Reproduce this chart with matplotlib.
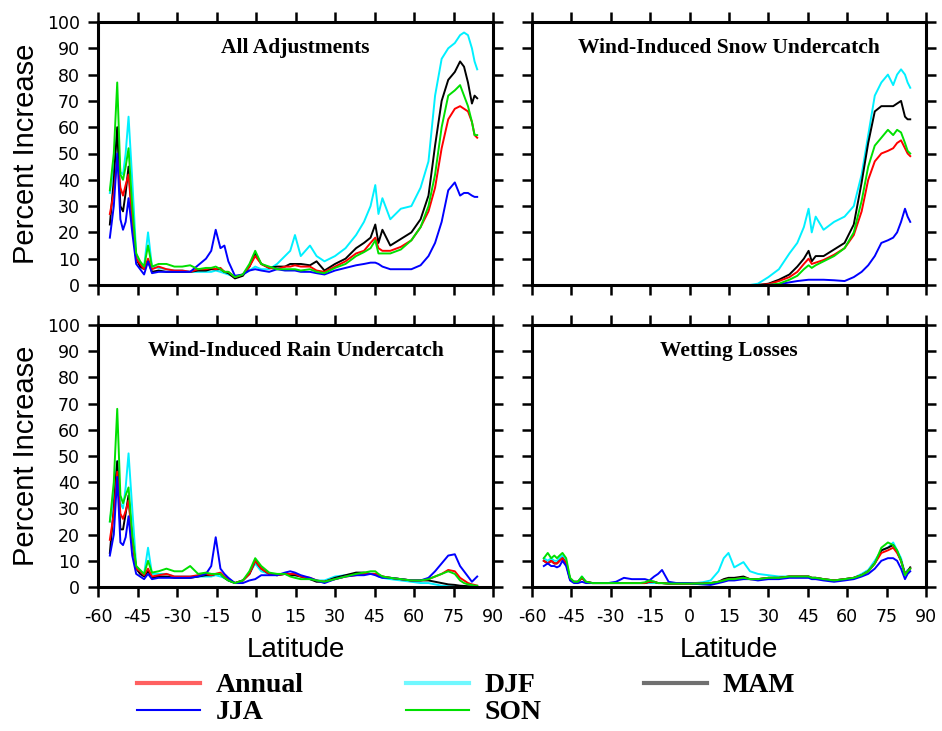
import numpy as np
import matplotlib
matplotlib.use('Agg')
import matplotlib.pyplot as plt
from matplotlib.lines import Line2D

plt.rcParams['axes.unicode_minus'] = False

# latitude of each sample (degrees)
lat = [-55.5, -54, -52.7, -51.5, -50.5, -49.5, -48.4, -47, -45.5, -44,
       -42.5, -41, -39.5, -37, -34, -31, -28, -25, -22, -19,
       -17, -15.3, -13.5, -12, -10.5, -8, -5, -2.5, -0.3, 2,
       5, 8, 11, 13, 14.8, 17, 20.5, 23, 26, 30,
       34, 38, 41, 43.5, 45.3, 46.5, 48, 51, 55, 59,
       62.5, 65.5, 68, 70.5, 73, 75.5, 77.5, 79, 80.5, 82, 83, 84]

# ---- All Adjustments
all_annual = [27, 35, 48, 37, 34, 38, 42, 25, 10, 8,
              6, 10, 6, 7, 6, 5.5, 5.5, 5, 6, 6,
              6.5, 6, 6.5, 5, 5, 3, 4, 7, 11, 8,
              6.5, 6, 7, 7, 7.5, 7, 7, 5.5, 5, 7,
              9, 12, 13, 16, 18, 14, 13, 13, 14.5, 17,
              22, 28, 37, 52, 63, 67, 68, 67, 66, 62, 57, 56]
all_djf = [35, 45, 58, 43, 42, 50, 64, 40, 12, 8,
           7, 20, 7, 6.5, 6, 5.5, 5.5, 5, 5, 5,
           5, 5.5, 5, 4.5, 4, 3, 4, 5.5, 7, 6,
           6, 8, 11, 13, 19, 11, 15, 11, 9, 11,
           14, 19, 24, 30, 38, 27, 33, 25, 29, 30,
           37, 47, 72, 86, 90, 92, 95, 96, 95, 90, 85, 82]
all_mam = [23, 40, 60, 30, 28, 35, 45, 25, 10, 7,
           6, 9, 5, 5.5, 5, 5, 5, 5, 5.5, 5.5,
           6, 6, 6, 5, 4.5, 2.5, 3.5, 7, 12, 8,
           6.5, 7, 7, 8, 8, 8, 7.5, 9, 5.5, 8,
           10, 14, 16, 18, 23, 16, 21, 15, 17.5, 20,
           25, 34, 53, 70, 78, 81, 85, 83, 77, 69, 72, 71]
all_jja = [18, 30, 50, 25, 21, 24, 33, 20, 8, 6,
           4, 9, 4.5, 5, 5, 5, 5, 5, 7.5, 10,
           13, 21, 14, 15, 9, 3.5, 4, 5.5, 6, 5.5,
           5, 6, 5.5, 5.5, 5.5, 5, 5, 4.5, 4, 5.5,
           6.5, 7.5, 8, 8.5, 8.5, 8, 7, 6, 6, 6,
           7.5, 11, 16, 24, 36, 39, 34, 35, 35, 34, 33.5, 33.5]
all_son = [36, 50, 77, 42, 40, 45, 52, 30, 12, 9,
           7, 15, 7, 8, 8, 7, 7, 7.5, 6, 6.5,
           6.5, 7, 6, 5, 5, 3, 4, 8, 13, 8,
           7, 6, 6, 6, 6, 5.5, 6, 5, 4.5, 6.5,
           8, 11, 12.5, 14, 17, 12, 12, 12, 13.5, 17,
           22, 30, 42, 60, 72, 74, 76, 72, 68, 62, 57, 57]

# ---- Wind-Induced Snow Undercatch (zero south of ~25N)
snow_annual = [0] * 39 + [0.3,
               1.5, 3, 5, 8, 10, 8, 8.5, 9.5, 11.5, 14,
               19, 28, 40, 47, 50, 51, 52, 54, 55, 52, 50, 49]
snow_djf = [0] * 38 + [0.5, 3,
            6, 12, 16, 22, 29, 20, 26, 21, 24, 26,
            30, 42, 57, 72, 77, 80, 76, 80, 82, 80, 77, 75]
snow_mam = [0] * 39 + [0.5,
            2, 4, 7, 10, 13, 9, 11, 11, 13.5, 16,
            23, 39, 54, 66, 68, 68, 68, 69, 70, 64, 63, 63]
snow_jja = [0] * 40 + [
            0.3, 1, 1.5, 1.8, 2, 2, 2, 2, 1.8, 1.5,
            3, 5, 7.5, 11, 16, 17, 18, 20, 24, 29, 26, 24]
snow_son = [0] * 40 + [
            0.5, 2, 3.5, 6, 7.5, 6.5, 7.5, 9, 11, 14,
            20, 32, 45, 53, 56, 59, 57, 59, 58, 54, 51, 50]

# ---- Wind-Induced Rain Undercatch
rain_annual = [18, 28, 44, 28, 26, 29, 33, 18, 7, 6,
               4.5, 7, 4, 4.5, 5, 4, 4, 4, 4.5, 5,
               4.5, 5, 5.5, 4, 3, 1.5, 2.5, 5, 10, 7,
               5, 4.5, 5, 5, 5, 4, 3.5, 2.5, 2, 3,
               4, 4.5, 5, 5, 5, 4.5, 4, 3.5, 3, 2.5,
               2.5, 3, 4, 5, 6.5, 6, 3.5, 2.5, 1.5, 1, 0.8, 0.5]
rain_djf = [25, 35, 48, 32, 30, 38, 51, 30, 8, 6,
            5, 15, 5, 5, 5, 4, 4, 4, 4, 4,
            4, 4.5, 4, 3.5, 2.5, 1.5, 2.5, 5, 9, 6,
            5, 4.5, 5, 5, 4.5, 4, 3, 2.5, 2.5, 4,
            4.5, 5, 5, 5, 5, 4, 3.5, 3, 2.5, 2,
            1.5, 1.5, 1, 0.5, 0.3, 0.2, 0.2, 0.1, 0.1, 0.1, 0, 0]
rain_mam = [13, 30, 48, 22, 22, 28, 35, 18, 7, 5,
            4, 6, 3.5, 4, 4, 3.5, 3.5, 3.5, 4, 4.5,
            4.5, 5, 5, 3.5, 2.5, 1.5, 2.5, 5, 10, 7,
            5, 4.5, 5, 4.5, 4.5, 4, 3, 2, 2, 3.5,
            4.5, 5.5, 5.5, 5, 5, 4.5, 4, 3.5, 3, 2.5,
            2.5, 2.5, 2, 1.5, 1, 0.8, 0.5, 0.4, 0.3, 0.2, 0.1, 0.1]
rain_jja = [12, 20, 42, 17, 16, 19, 27, 12, 5, 4,
            3, 5, 3, 3.5, 3.5, 3.5, 3.5, 3.5, 4, 5,
            8, 19, 7, 5, 3.5, 1.5, 1.5, 2.5, 3, 4.5,
            4.5, 4.5, 5.5, 6, 5.5, 4.5, 3.5, 2.5, 1.5, 3,
            4, 4.5, 4.5, 5, 4.5, 4, 3.5, 3.5, 3, 2.5,
            2.5, 3.5, 6, 9, 12, 12.5, 8, 6, 4, 2, 3, 4]
rain_son = [25, 40, 68, 35, 32, 35, 38, 20, 8, 6.5,
            5, 10, 5.5, 6, 7, 6, 6, 8, 5, 5.5,
            5, 5, 5, 3.5, 2.5, 1.5, 2.5, 6, 11, 8,
            5.5, 5, 5, 4, 3.5, 3, 3, 2.5, 2, 3,
            4, 5, 5.5, 6, 6, 5, 4, 3.5, 3, 2.5,
            2.5, 3, 4, 5, 6, 5, 2.5, 1.5, 1, 0.8, 0.5, 0.5]

# ---- Wetting Losses
wet_annual = [10, 9, 10, 9, 9, 10, 11, 9, 3, 2,
              2, 3.5, 2, 1.5, 1.5, 1.5, 1.5, 1.5, 1.5, 1.5,
              1.5, 2, 2, 1.5, 1.5, 1.3, 1.3, 1.3, 1.3, 1.3,
              1.3, 1.5, 2, 2.5, 3, 3, 3.5, 3, 3, 3.5,
              3.5, 4, 4, 4, 4, 3.5, 3.5, 3, 2.5, 3,
              3.5, 4.5, 6, 9, 13, 14, 15, 13, 10, 5, 6, 7]
wet_djf = [11, 10, 11, 10, 10, 11, 12, 10, 3, 2,
           2, 4, 2, 1.5, 1.5, 1.5, 1.5, 1.5, 1.5, 1.5,
           1.5, 1.5, 1.5, 1.5, 1.5, 1.3, 1.3, 1.3, 1.3, 1.5,
           1.8, 2.5, 6, 11, 13, 7.5, 9.5, 6, 5, 4.5,
           4, 4, 4, 4, 4, 3.5, 3.5, 3, 2.5, 3,
           3.5, 5, 6.5, 10, 14, 15, 17, 14, 11, 5, 6.5, 7]
wet_mam = [10, 9, 10, 9, 9, 10, 11, 9, 3, 2,
           2, 3.5, 2, 1.5, 1.5, 1.5, 1.5, 1.5, 1.5, 1.5,
           1.5, 2, 2, 1.5, 1.5, 1.3, 1.3, 1.3, 1.3, 1.3,
           1.3, 1.5, 2, 3, 3.5, 3.5, 4, 3, 3, 3.5,
           3.5, 4, 4, 4, 4, 3.5, 3.5, 3, 2.5, 3,
           3.5, 4.5, 6, 9, 14, 15, 16, 13.5, 10, 5, 6, 7.5]
wet_jja = [8, 9, 8, 8, 7.5, 8, 10, 8, 2.5, 1.5,
           1.5, 2, 1.5, 1.5, 1.5, 1.5, 2, 3.5, 3, 3,
           3, 2.5, 4, 5, 6.5, 2, 1.5, 1.5, 1.5, 1.2,
           1, 0.8, 1.5, 2, 2.5, 2.5, 3, 3, 2.5, 3,
           3, 3.5, 3.5, 3.5, 3.5, 3, 3, 2.5, 2, 2.5,
           3, 4, 5, 7, 10, 11, 11, 10, 7, 3, 5, 6]
wet_son = [11, 13, 11, 12, 11, 12, 13, 11, 3.5, 2,
           2, 4, 2, 1.5, 1.5, 1.5, 1.5, 1.5, 1.5, 1.5,
           1.8, 2.5, 2, 1.5, 1.5, 1.3, 1.3, 1.3, 1.3, 1.3,
           1.3, 1.5, 2, 2.5, 3, 3, 3.5, 3, 3, 3.5,
           3.5, 4, 4, 4, 4, 3.5, 3.5, 3, 2.5, 3,
           3.5, 4.5, 6, 9, 15, 17, 16, 14, 10, 4.5, 6, 7]

titles = ['All Adjustments', 'Wind-Induced Snow Undercatch',
          'Wind-Induced Rain Undercatch', 'Wetting Losses']
colors = {'Annual': '#ff0000', 'DJF': '#00f0ff', 'MAM': '#000000',
          'JJA': '#0000ff', 'SON': '#00e000'}

panels = [
    {'Annual': all_annual, 'DJF': all_djf, 'MAM': all_mam, 'JJA': all_jja, 'SON': all_son},
    {'Annual': snow_annual, 'DJF': snow_djf, 'MAM': snow_mam, 'JJA': snow_jja, 'SON': snow_son},
    {'Annual': rain_annual, 'DJF': rain_djf, 'MAM': rain_mam, 'JJA': rain_jja, 'SON': rain_son},
    {'Annual': wet_annual, 'DJF': wet_djf, 'MAM': wet_mam, 'JJA': wet_jja, 'SON': wet_son},
]

W, H = 942, 731
fig = plt.figure(figsize=(W / 100, H / 100), dpi=100)

# panel boxes in pixels: left, top, width, height
boxes = [(98, 22, 395, 263), (532, 22, 394, 263),
         (98, 325, 395, 262), (532, 325, 394, 262)]
draw_order = ['DJF', 'MAM', 'Annual', 'JJA', 'SON']

for i, (x0, y0, w, h) in enumerate(boxes):
    ax = fig.add_axes([x0 / W, 1 - (y0 + h) / H, w / W, h / H])
    for s in draw_order:
        ax.plot(lat, panels[i][s], color=colors[s], lw=1.4)
    ax.set_xlim(-60, 90)
    ax.set_ylim(0, 100)
    ax.set_xticks(np.arange(-60, 91, 15))
    ax.set_yticks(np.arange(0, 101, 10))
    for sp in ax.spines.values():
        sp.set_linewidth(2.2)
    ax.tick_params(direction='out', length=7, width=1.8, top=True, right=True,
                   labelsize=12.5, pad=6)
    ax.tick_params(axis='x', pad=8)
    if i % 2 == 0:
        ax.set_ylabel('Percent Increase', fontsize=21, family='Liberation Sans',
                      labelpad=5)
    else:
        ax.tick_params(labelleft=False)
    if i < 2:
        ax.tick_params(labelbottom=False)
    else:
        ax.set_xlabel('Latitude', fontsize=20, family='Liberation Sans', labelpad=8)
    ax.text(0.5, 0.9, titles[i], transform=ax.transAxes, ha='center', va='center',
            fontsize=15.5, fontweight='bold', family='Liberation Serif')

handles = [Line2D([], [], color='#ff6060', lw=3),
           Line2D([], [], color='#0000ff', lw=1.5),
           Line2D([], [], color='#70f8ff', lw=3),
           Line2D([], [], color='#00e000', lw=1.5),
           Line2D([], [], color='#707070', lw=3)]
labels = ['Annual', 'JJA', 'DJF', 'SON', 'MAM']
fig.legend(handles, labels, ncol=3, loc='upper left',
           bbox_to_anchor=(137 / W, 1 - 673 / H), frameon=False,
           borderpad=0, borderaxespad=0, handlelength=2.27, handletextpad=0.55,
           columnspacing=3.7, labelspacing=0.05,
           prop={'family': 'Liberation Serif', 'weight': 'bold', 'size': 20})

fig.savefig('out.png', dpi=100)
